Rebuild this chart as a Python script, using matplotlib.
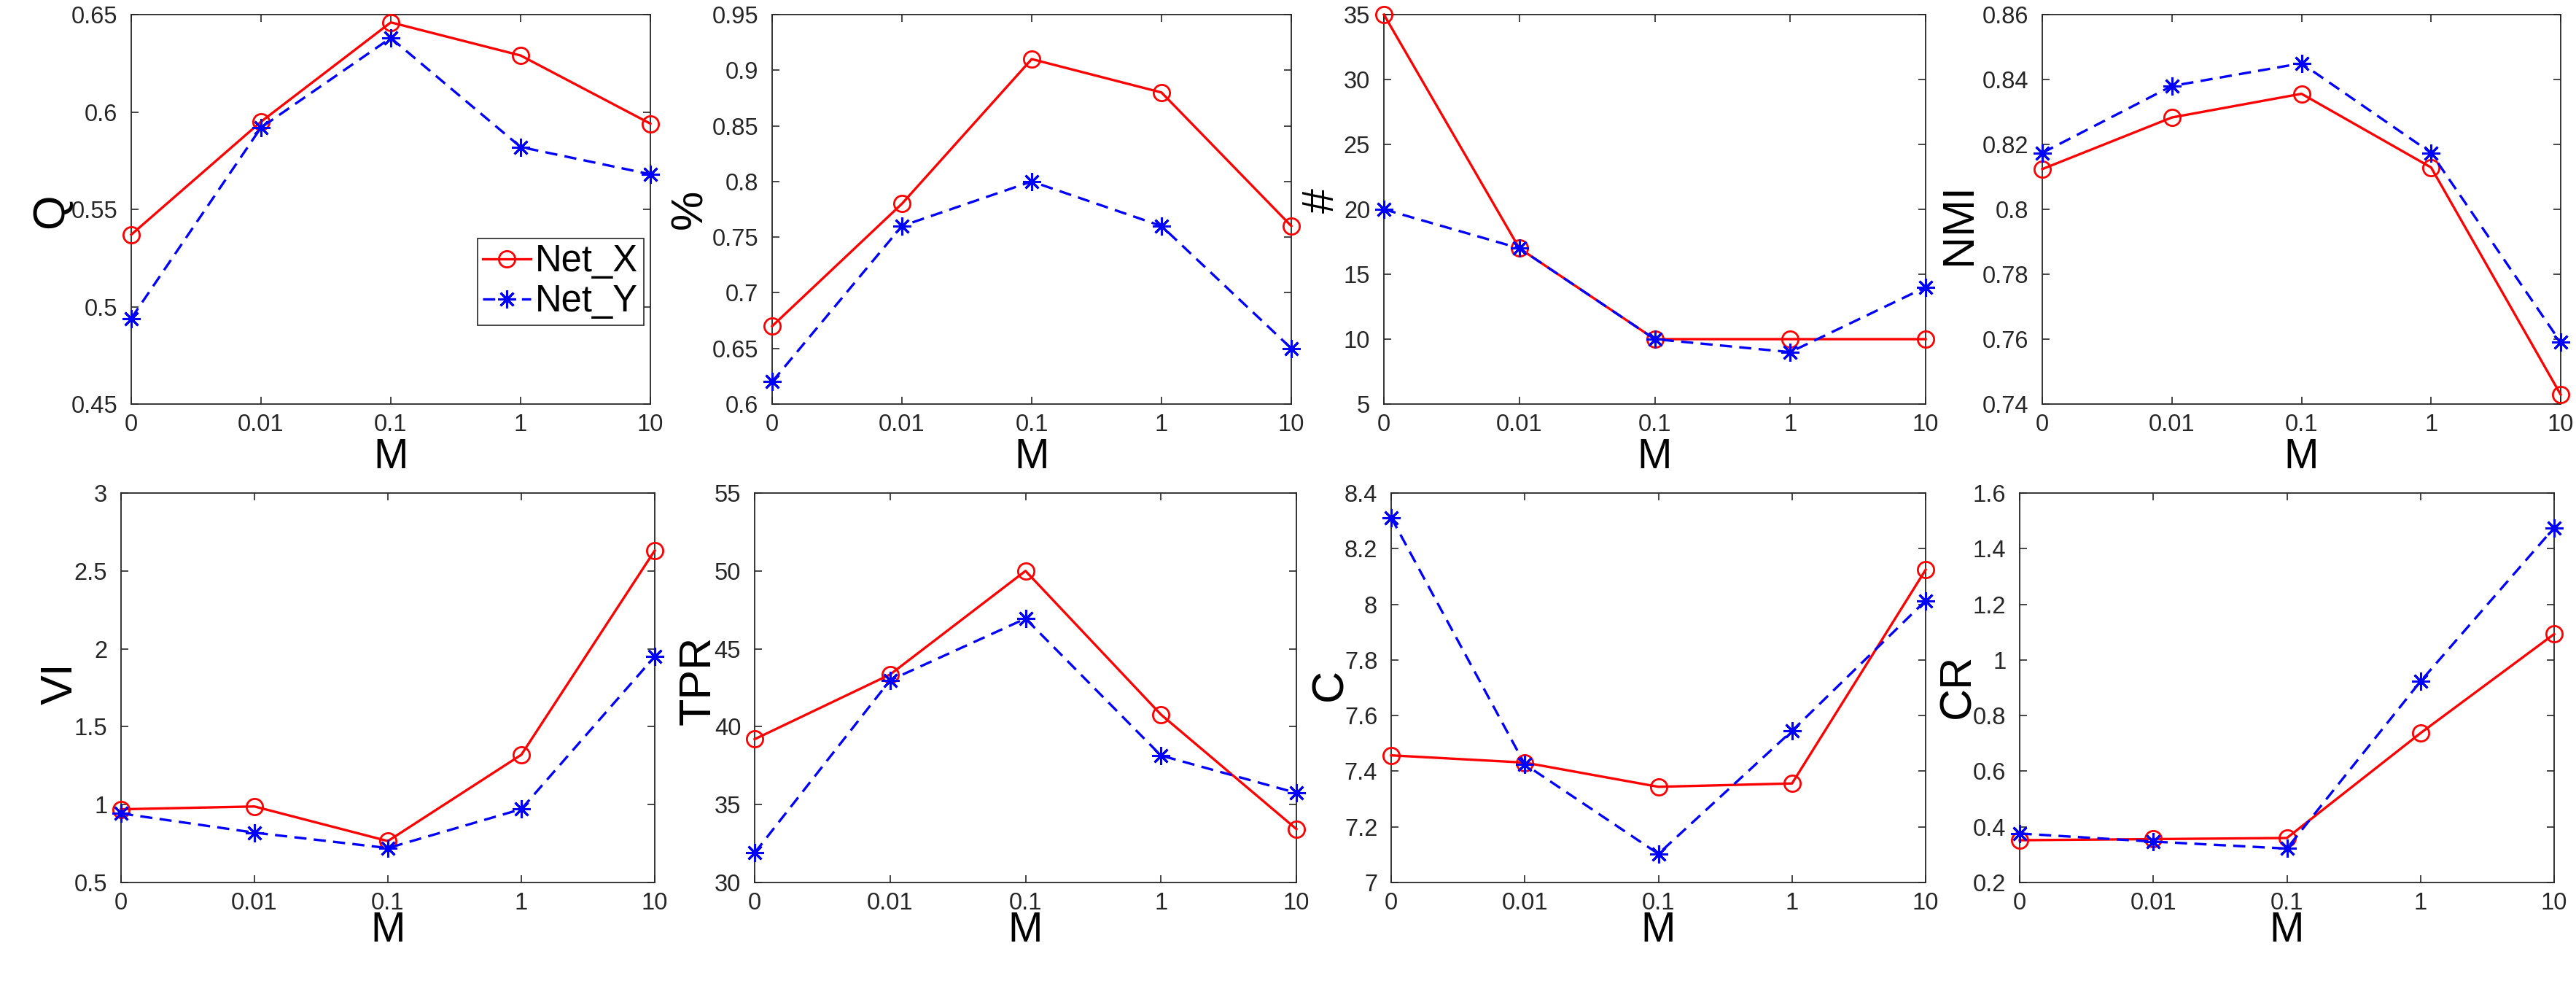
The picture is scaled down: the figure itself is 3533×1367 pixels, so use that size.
import matplotlib
matplotlib.use('Agg')
import matplotlib.pyplot as plt

plt.rcParams['font.family'] = ['Liberation Sans', 'DejaVu Sans']

# x categories (parameter M)
m_labels = ['0', '0.01', '0.1', '1', '10']
x_pos = list(range(len(m_labels)))

# series per panel
q_x = [0.537, 0.595, 0.646, 0.629, 0.594]
q_y = [0.494, 0.592, 0.638, 0.582, 0.568]
pct_x = [0.67, 0.78, 0.91, 0.88, 0.76]
pct_y = [0.62, 0.76, 0.80, 0.76, 0.65]
num_x = [35, 17, 10, 10, 10]
num_y = [20, 17, 10, 9, 14]
nmi_x = [0.8124, 0.8283, 0.8356, 0.8129, 0.7429]
nmi_y = [0.8174, 0.838, 0.845, 0.8174, 0.759]
vi_x = [0.97, 0.988, 0.766, 1.32, 2.631]
vi_y = [0.943, 0.82, 0.721, 0.971, 1.951]
tpr_x = [39.2, 43.35, 50.0, 40.78, 33.43]
tpr_y = [31.9, 42.98, 46.94, 38.15, 35.75]
c_x = [7.457, 7.431, 7.344, 7.356, 8.124]
c_y = [8.312, 7.425, 7.103, 7.545, 8.013]
cr_x = [0.352, 0.356, 0.360, 0.737, 1.093]
cr_y = [0.376, 0.347, 0.322, 0.923, 1.475]

panels = [
    ('Q', q_x, q_y, (0.45, 0.65), [0.45, 0.5, 0.55, 0.6, 0.65]),
    ('%', pct_x, pct_y, (0.6, 0.95), [0.6, 0.65, 0.7, 0.75, 0.8, 0.85, 0.9, 0.95]),
    ('#', num_x, num_y, (5, 35), [5, 10, 15, 20, 25, 30, 35]),
    ('NMI', nmi_x, nmi_y, (0.74, 0.86), [0.74, 0.76, 0.78, 0.8, 0.82, 0.84, 0.86]),
    ('VI', vi_x, vi_y, (0.5, 3), [0.5, 1, 1.5, 2, 2.5, 3]),
    ('TPR', tpr_x, tpr_y, (30, 55), [30, 35, 40, 45, 50, 55]),
    ('C', c_x, c_y, (7, 8.4), [7, 7.2, 7.4, 7.6, 7.8, 8, 8.2, 8.4]),
    ('CR', cr_x, cr_y, (0.2, 1.6), [0.2, 0.4, 0.6, 0.8, 1, 1.2, 1.4, 1.6]),
]

W, H = 3533, 1367
fig = plt.figure(figsize=(W / 100, H / 100), dpi=100)

# axes boxes in pixels: left, right, top, bottom
boxes = [
    (180, 892, 20, 554), (1059, 1771, 20, 554), (1898, 2641, 20, 554), (2801, 3512, 20, 554),
    (166, 898, 676, 1210), (1035, 1778, 676, 1210), (1908, 2641, 676, 1210), (2770, 3503, 676, 1210),
]
ylabel_x = [-0.114, -0.118, -0.076, -0.120, -0.074, -0.065, -0.075, -0.076]
ylabel_y = [0.496, 0.50, 0.523, 0.463, 0.511, 0.519, 0.507, 0.504]

grey = '#262626'
asterisk = (8, 2, 0)

for i, (name, sx, sy, ylim, yticks) in enumerate(panels):
    l, r, t, b = boxes[i]
    ax = fig.add_axes([l / W, 1 - b / H, (r - l) / W, (b - t) / H])
    ax.plot(x_pos, sx, color='red', linestyle='-', linewidth=2.4,
            marker='o', markersize=16, markerfacecolor='none',
            markeredgewidth=2.0, label='Net_X', clip_on=False, zorder=3)
    ax.plot(x_pos, sy, color='blue', linestyle=(0, (5, 3)), linewidth=2.4,
            marker=asterisk, markersize=18, markeredgewidth=2.2,
            label='Net_Y', clip_on=False, zorder=3)
    ax.set_xlim(0, 4)
    ax.set_ylim(*ylim)
    ax.set_xticks(x_pos)
    ax.set_xticklabels(m_labels)
    ax.set_yticks(yticks)
    ax.set_yticklabels([f'{v:g}' for v in yticks])
    ax.tick_params(direction='in', top=True, right=True, length=7, width=1.2,
                   color=grey, labelcolor=grey, labelsize=23.5)
    ax.tick_params(axis='x', pad=9.5)
    ax.tick_params(axis='y', pad=13.5)
    for sp in ax.spines.values():
        sp.set_color(grey)
        sp.set_linewidth(1.3)
    ax.set_xlabel('M', fontsize=41, labelpad=1 if i < 4 else -4)
    ax.set_ylabel(name, fontsize=44)
    ax.yaxis.set_label_coords(ylabel_x[i], ylabel_y[i])

    if i == 0:
        leg = ax.legend(loc='upper right', bbox_to_anchor=(0.9875, 0.4255),
                        borderaxespad=0, fontsize=36.5, fancybox=False,
                        framealpha=1, edgecolor=grey, handlelength=1.3,
                        handletextpad=0.12, labelspacing=0.12, borderpad=0.15)
        leg.get_frame().set_linewidth(1.2)

fig.savefig('out.png', dpi=100)
